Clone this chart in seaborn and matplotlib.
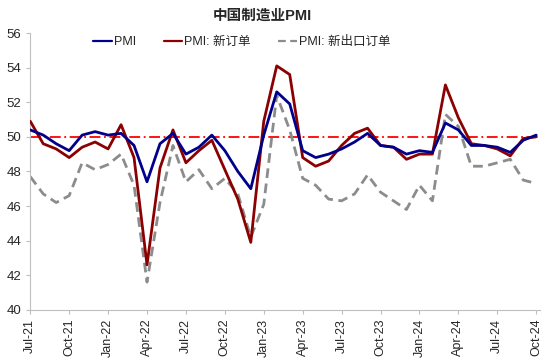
import pandas as pd
import seaborn as sns
import matplotlib.pyplot as plt

# monthly data Jul-21 .. Oct-24
months = pd.date_range('2021-07-01', '2024-10-01', freq='MS')

pmi = [50.4, 50.1, 49.6, 49.2, 50.1, 50.3, 50.1, 50.2, 49.5, 47.4, 49.6, 50.2,
       49.0, 49.4, 50.1, 49.2, 48.0, 47.0, 50.1, 52.6, 51.9, 49.2, 48.8, 49.0,
       49.3, 49.7, 50.2, 49.5, 49.4, 49.0, 49.2, 49.1, 50.8, 50.4, 49.5, 49.5,
       49.4, 49.1, 49.8, 50.1]
new_orders = [50.9, 49.6, 49.3, 48.8, 49.4, 49.7, 49.3, 50.7, 48.8, 42.6, 48.2, 50.4,
              48.5, 49.2, 49.8, 48.1, 46.4, 43.9, 50.9, 54.1, 53.6, 48.8, 48.3, 48.6,
              49.5, 50.2, 50.5, 49.5, 49.4, 48.7, 49.0, 49.0, 53.0, 51.1, 49.6, 49.5,
              49.3, 48.9, 49.9, 50.0]
export_orders = [47.7, 46.7, 46.2, 46.6, 48.5, 48.1, 48.4, 49.0, 47.2, 41.6, 46.2, 49.5,
                 47.4, 48.1, 47.0, 47.6, 46.7, 44.2, 46.1, 52.4, 50.4, 47.6, 47.2, 46.4,
                 46.3, 46.7, 47.8, 46.8, 46.3, 45.8, 47.2, 46.3, 51.3, 50.6, 48.3, 48.3,
                 48.5, 48.7, 47.5, 47.3]

labels = ['PMI', 'PMI: 新订单', 'PMI: 新出口订单']

df = pd.DataFrame({'idx': range(len(months)), labels[0]: pmi,
                   labels[1]: new_orders, labels[2]: export_orders})

sns.set_style('white')
plt.rcParams['font.family'] = ['Liberation Sans', 'Noto Sans CJK SC', 'DejaVu Sans']

fig = plt.figure(figsize=(5.5, 3.59), dpi=100)
ax = fig.add_axes([0.055, 0.137, 0.927, 0.771])

ax.axhline(50, color='#FF0000', linestyle=(0, (6, 2, 1, 2)), linewidth=1.3, zorder=1)
sns.lineplot(data=df, x='idx', y=labels[2], ax=ax, color='#8C8C8C', linewidth=2,
             linestyle=(0, (3.5, 2)), label=labels[2], zorder=2)
sns.lineplot(data=df, x='idx', y=labels[1], ax=ax, color='#8B0000', linewidth=2,
             label=labels[1], zorder=3)
sns.lineplot(data=df, x='idx', y=labels[0], ax=ax, color='#00008B', linewidth=2,
             label=labels[0], zorder=4)

ax.set_ylim(40, 56)
ax.set_yticks(range(40, 57, 2))
ax.set_xlim(0, 39.3)
tick_pos = list(range(0, len(months), 3))
ax.set_xticks(tick_pos)
ax.set_xticklabels([months[i].strftime('%b-%y') for i in tick_pos], rotation=90)
ax.set_xlabel('')
ax.set_ylabel('')
ax.tick_params(axis='x', bottom=True, length=3, color='#BFBFBF', labelsize=9)
ax.tick_params(axis='y', left=True, length=3, color='#BFBFBF', labelsize=9.5)
for s in ['top', 'right']:
    ax.spines[s].set_visible(False)
for s in ['left', 'bottom']:
    ax.spines[s].set_color('#BFBFBF')

handles, lbls = ax.get_legend_handles_labels()
order = [lbls.index(l) for l in labels]
leg = ax.legend([handles[i] for i in order], [lbls[i] for i in order], ncol=3, frameon=False,
                loc='upper center', bbox_to_anchor=(0.415, 1.03), fontsize=9,
                handlelength=1.5, handletextpad=0.15, columnspacing=2.2)
for h in leg.get_lines():
    h.set_linewidth(1.6)

fig.suptitle('中国制造业PMI', x=0.477, y=0.975, fontsize=10.5, fontweight='bold')

fig.savefig('out.png', dpi=100)
